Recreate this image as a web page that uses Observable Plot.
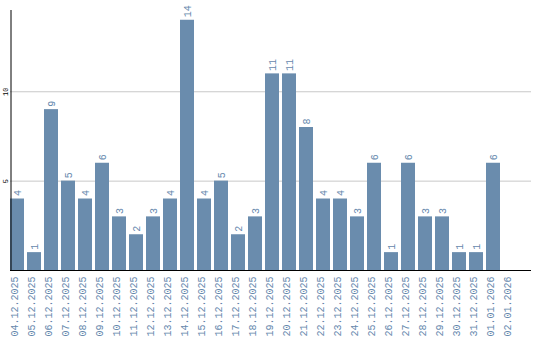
<!DOCTYPE html>
<html>
<head>
<meta charset="utf-8">
<script src="https://cdn.jsdelivr.net/npm/d3@7"></script>
<script src="https://cdn.jsdelivr.net/npm/@observablehq/plot@0.6"></script>
<style>
  html, body { margin: 0; padding: 0; background: #fff; }
  #chart svg { display: block; }
</style>
</head>
<body>
<div id="chart"></div>
<script>
const dates = ["04.12.2025","05.12.2025","06.12.2025","07.12.2025","08.12.2025","09.12.2025","10.12.2025","11.12.2025","12.12.2025","13.12.2025","14.12.2025","15.12.2025","16.12.2025","17.12.2025","18.12.2025","19.12.2025","20.12.2025","21.12.2025","22.12.2025","23.12.2025","24.12.2025","25.12.2025","26.12.2025","27.12.2025","28.12.2025","29.12.2025","30.12.2025","31.12.2025","01.01.2026","02.01.2026"];
const counts = [4,1,9,5,4,6,3,2,3,4,14,4,5,2,3,11,11,8,4,4,3,6,1,6,3,3,1,1,6,null];
const yTicks = [5, 10];

const data = dates.map((d, i) => ({date: d, value: counts[i]}));
const withValues = data.filter(d => d.value != null);
const yMax = d3.max(counts) * 1.039;

const barColor = "#6a8cad";
const textColor = "#6688ad";
const mono = "Liberation Mono, DejaVu Sans Mono, monospace";

const chart = Plot.plot({
  width: 540,
  height: 340,
  marginLeft: 10,
  marginRight: 9,
  marginTop: 10,
  marginBottom: 70,
  style: {fontFamily: mono, background: "#fff"},
  x: {type: "band", domain: dates, paddingInner: 0.17, paddingOuter: 0.4, align: 0, round: true, axis: null},
  y: {domain: [0, yMax], axis: null},
  marks: [
    Plot.ruleY(yTicks, {stroke: "#c8c8c8", strokeWidth: 1}),
    Plot.barY(withValues, {x: "date", y: "value", fill: barColor}),
    Plot.text(withValues, {x: "date", y: "value", text: d => String(d.value), rotate: -90, textAnchor: "start", dy: -3, fill: textColor, fontSize: 10}),
    Plot.text(dates, {x: d => d, text: d => d, frameAnchor: "bottom", rotate: -90, textAnchor: "end", dy: 6, fill: textColor, fontSize: 10}),
    Plot.text(yTicks, {y: d => d, text: d => String(d), frameAnchor: "left", rotate: -90, textAnchor: "middle", dx: -5, fill: "#000", fontSize: 7}),
    Plot.ruleX([0], {x: () => dates[0], dx: -6.5, stroke: "#000", strokeWidth: 1}),
    Plot.ruleY([0], {stroke: "#000", strokeWidth: 1})
  ]
});
document.getElementById("chart").append(chart);
</script>
</body>
</html>
